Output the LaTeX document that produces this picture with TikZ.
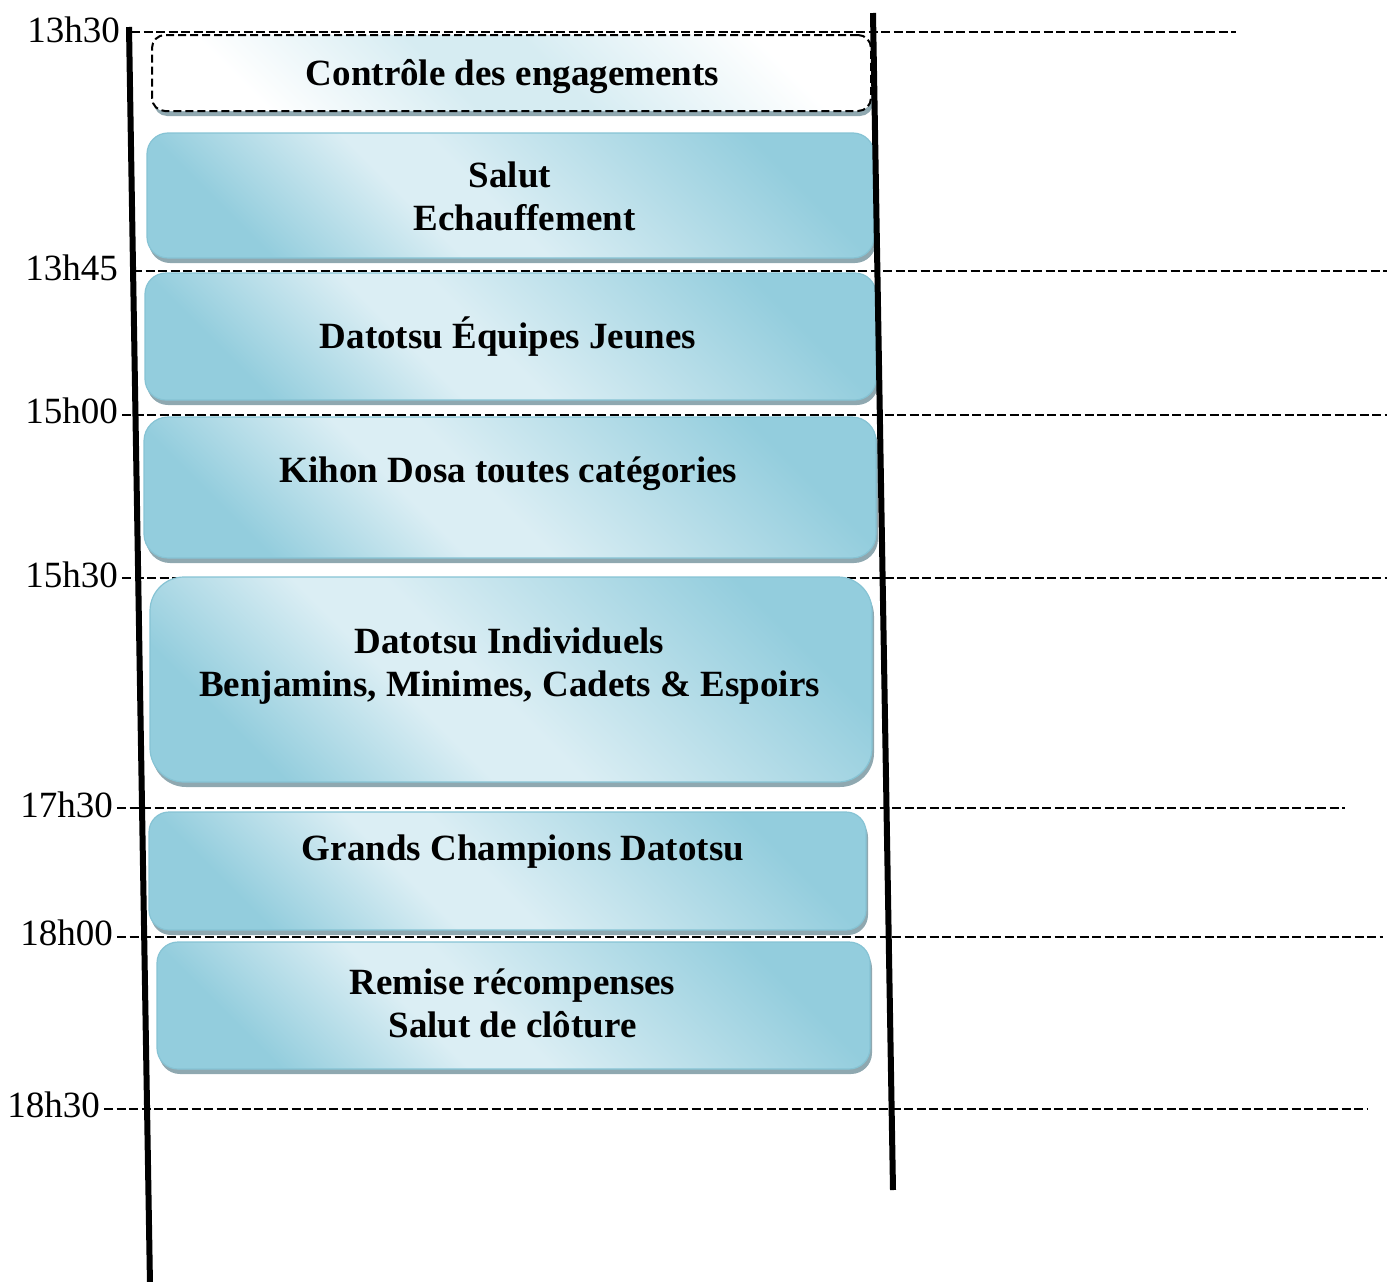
\documentclass[tikz,border=0pt]{standalone}
\usepackage{fontspec}
\setmainfont{Liberation Serif}
\usetikzlibrary{shadows}
\definecolor{boxblue}{RGB}{147,205,221}
\definecolor{boxlight}{RGB}{219,238,244}
\definecolor{boxedge}{RGB}{134,195,212}
\definecolor{shadowgrey}{RGB}{143,168,176}
\definecolor{firstmid}{RGB}{214,236,242}
\pgfdeclareverticalshading{tlshade}{100bp}{color(0bp)=(boxblue); color(25bp)=(boxblue); color(52bp)=(boxlight); color(59bp)=(boxlight); color(75bp)=(boxblue); color(100bp)=(boxblue)}
\pgfdeclareverticalshading{firstshade}{100bp}{color(0bp)=(white); color(25bp)=(white); color(46bp)=(firstmid); color(56bp)=(firstmid); color(75bp)=(white); color(100bp)=(white)}
\begin{document}
\begin{tikzpicture}[x=1pt,y=-1pt,
  boxshadow/.style={drop shadow={shadow xshift=2pt, shadow yshift=-5pt, fill=shadowgrey, opacity=1}},
  tlbox/.style={rectangle, inner sep=0pt, draw=boxedge, line width=1.2pt,
    shading=tlshade, shading angle=135, boxshadow},
  firstbox/.style={rectangle, inner sep=0pt, draw=black, line width=2pt,
    dash pattern=on 8pt off 4pt, shading=firstshade, shading angle=135, boxshadow},
  btext/.style={font=\fontsize{37}{43}\selectfont\bfseries, inner sep=0pt, anchor=base},
  tlabel/.style={font=\fontsize{37}{43}\selectfont, inner sep=0pt, anchor=base east},
  tdash/.style={line width=2.6pt, dash pattern=on 9pt off 3.5pt},
  axisline/.style={line width=6pt}
]
\useasboundingbox (0,0) rectangle (1387,1282);

% time labels and dashed lines
\node[tlabel] (t1) at (120,42) {13h30};
\node[tlabel] (t2) at (118,280) {13h45};
\node[tlabel] (t3) at (118,423) {15h00};
\node[tlabel] (t4) at (118,587) {15h30};
\node[tlabel] (t5) at (113,817) {17h30};
\node[tlabel] (t6) at (113,945) {18h00};
\node[tlabel] (t7) at (100,1117) {18h30};

\coordinate (s1) at (131,32);  \coordinate (e1) at (1236,32);
\coordinate (s2) at (133,271); \coordinate (e2) at (1387,271);
\coordinate (s3) at (122,415); \coordinate (e3) at (1387,415);
\coordinate (s4) at (122,578); \coordinate (e4) at (1387,578);
\coordinate (s5) at (117,808); \coordinate (e5) at (1345,808);
\coordinate (s6) at (117,937); \coordinate (e6) at (1383,937);
\coordinate (s7) at (104,1109);\coordinate (e7) at (1368,1109);
\foreach \i in {1,...,7} \draw[tdash] (s\i) -- (e\i);

% boxes
\node[firstbox, rounded corners=13pt, minimum width=719pt, minimum height=76pt] (b1) at (511.5,73) {};
\node[tlbox, rounded corners=21pt, minimum width=727pt, minimum height=125pt] (b2) at (510.5,195.5) {};
\node[tlbox, rounded corners=21pt, minimum width=731pt, minimum height=127pt] (b3) at (510.5,336.5) {};
\node[tlbox, rounded corners=24pt, minimum width=732pt, minimum height=141pt] (b4) at (510,487.5) {};
\node[tlbox, rounded corners=34pt, minimum width=722pt, minimum height=205pt] (b5) at (511,679.5) {};
\node[tlbox, rounded corners=20pt, minimum width=717pt, minimum height=118pt] (b6) at (507.5,871) {};
\node[tlbox, rounded corners=21pt, minimum width=713pt, minimum height=127pt] (b7) at (513.5,1005.5) {};

% box texts
\node[btext] (x1) at (512.5,85) {Contrôle des engagements};
\node[btext] (x2) at (524.5,187) {\begin{tabular}[t]{@{}c@{}}Salut\hspace*{29pt}\\Echauffement\end{tabular}};
\node[btext] (x3) at (508,348) {Datotsu Équipes Jeunes};
\node[btext] (x4) at (508.5,482) {Kihon Dosa toutes catégories};
\node[btext] (x5) at (509.5,653) {\begin{tabular}[t]{@{}c@{}}Datotsu Individuels\\Benjamins, Minimes, Cadets \& Espoirs\end{tabular}};
\node[btext] (x6) at (523,860) {Grands Champions Datotsu};
\node[btext] (x7) at (512.5,994) {\begin{tabular}[t]{@{}c@{}}Remise récompenses\\Salut de clôture\end{tabular}};

% axis lines
\coordinate (lt) at (129,27);  \coordinate (lb) at (150,1285);
\coordinate (rt) at (873,13);  \coordinate (rb) at (893,1190);
\draw[axisline] (lt) -- (lb);
\draw[axisline] (rt) -- (rb);
\end{tikzpicture}
\end{document}
